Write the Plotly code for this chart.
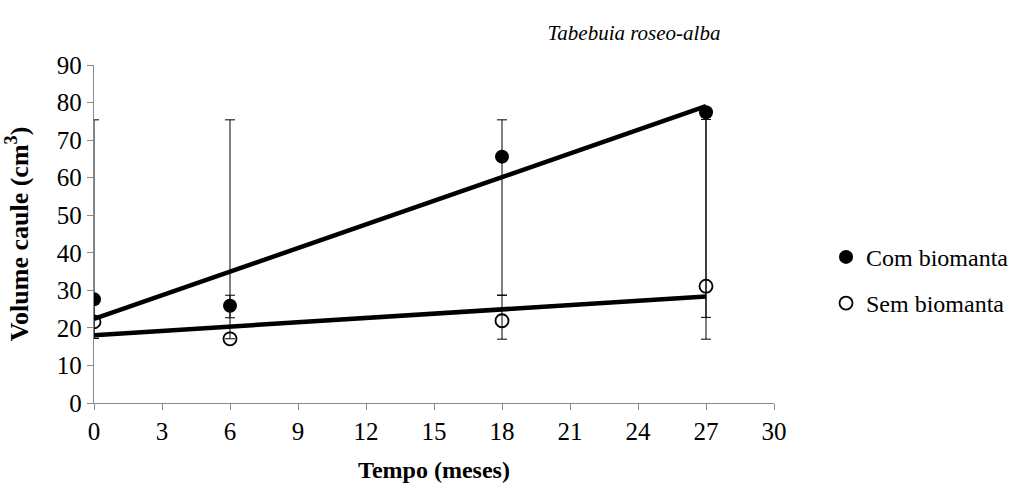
import numpy as np
import plotly.graph_objects as go

meses = [0, 6, 18, 27]
com_biomanta = [27.6, 25.9, 65.6, 77.4]
sem_biomanta = [21.6, 17.1, 21.9, 31.1]
com_err_plus = [47.8, 2.8, 9.8, 0.0]
com_err_minus = [10.4, 3.2, 36.9, 54.6]
sem_err_plus = [6.0, 58.3, 6.8, 44.4]
sem_err_minus = [4.4, 0.0, 4.9, 14.1]
x_ticks = [0, 3, 6, 9, 12, 15, 18, 21, 24, 27, 30]
y_ticks = [0, 10, 20, 30, 40, 50, 60, 70, 80, 90]

FONT = "Liberation Serif, Times New Roman, serif"

fig = go.Figure()

fig.add_trace(go.Scatter(
    x=meses, y=com_biomanta, mode="markers", name="Com biomanta",
    legendgroup="a",
    marker=dict(symbol="circle", size=14, color="black"),
    error_y=dict(type="data", symmetric=False, array=com_err_plus,
                 arrayminus=com_err_minus, color="black", thickness=1, width=5),
))
fig.add_trace(go.Scatter(
    x=meses, y=sem_biomanta, mode="markers", name="Sem biomanta",
    legendgroup="b",
    marker=dict(symbol="circle-open", size=13, color="black", line=dict(width=1.8)),
    error_y=dict(type="data", symmetric=False, array=sem_err_plus,
                 arrayminus=sem_err_minus, color="black", thickness=1, width=5),
))

for ys in (com_biomanta, sem_biomanta):
    m, b = np.polyfit(meses, ys, 1)
    xs = [meses[0], meses[-1]]
    fig.add_trace(go.Scatter(
        x=xs, y=[m * v + b for v in xs], mode="lines", showlegend=False,
        line=dict(color="black", width=4.5), hoverinfo="skip",
    ))

axis_common = dict(
    showgrid=False, zeroline=False, showline=True, linecolor="#898989",
    linewidth=1.3, ticks="outside", ticklen=6, tickcolor="#898989", tickwidth=1.3,
    tickfont=dict(family=FONT, size=25, color="black"),
)

fig.update_layout(
    width=1011, height=492,
    margin=dict(l=94, r=237, t=65, b=89, autoexpand=False),
    plot_bgcolor="white", paper_bgcolor="white",
    title=dict(text="<i>Tabebuia roseo-alba</i>", x=634 / 1011, xanchor="center",
               xref="container", y=1 - 33 / 492, yref="container", yanchor="middle",
               font=dict(family=FONT, size=21, color="black")),
    xaxis=dict(range=[0, 30], tickvals=x_ticks,
               title=dict(text="<b>Tempo (meses)</b>", font=dict(family=FONT, size=24, color="black"),
                          standoff=17),
               **axis_common),
    yaxis=dict(range=[0, 90], tickvals=y_ticks,
               title=dict(text="<b>Volume caule (cm<sup>3</sup>)</b>", font=dict(family=FONT, size=26, color="black"),
                          standoff=20),
               **axis_common),
    legend=dict(x=1.0765, xanchor="left", y=0.363, yanchor="middle",
                font=dict(family=FONT, size=24, color="black"),
                tracegroupgap=12, bgcolor="rgba(0,0,0,0)"),
    showlegend=True,
)

fig.write_html("out.html")
